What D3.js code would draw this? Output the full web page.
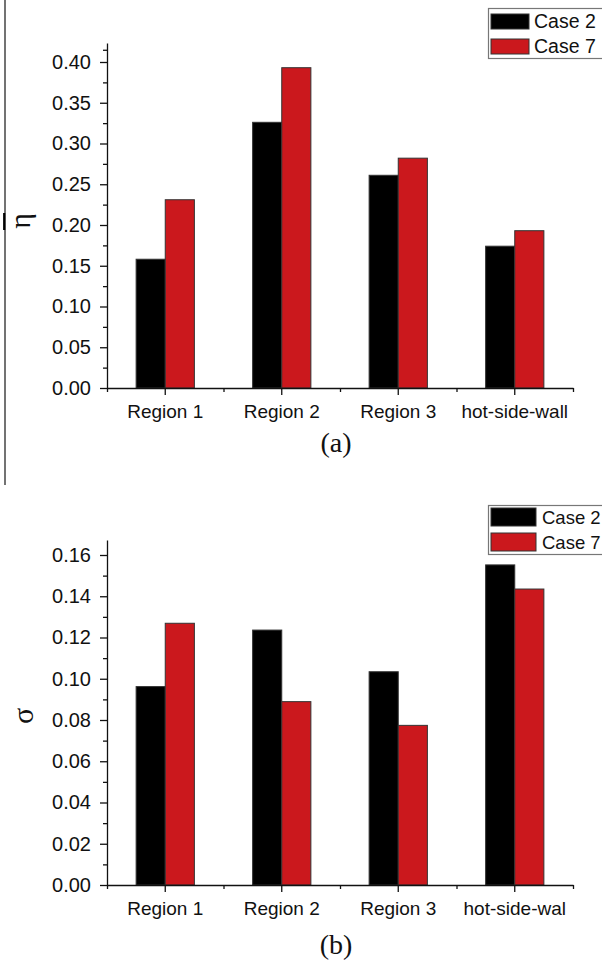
<!DOCTYPE html>
<html>
<head>
<meta charset="utf-8">
<script src="https://cdn.jsdelivr.net/npm/d3@7"></script>
<style>
  html, body { margin: 0; padding: 0; background: #fff; overflow: hidden; }
  svg { display: block; }
  .axis path, .axis line { stroke: #111; stroke-width: 1.3; }
  .axis text { font-family: "Liberation Sans", Arial, sans-serif; font-size: 19px; fill: #111; }
  .yaxis text { font-size: 20px; }
</style>
</head>
<body>
<script>
// ---------- data ----------
const categories = ["Region 1", "Region 2", "Region 3", "hot-side-wall"];
const categoryLabelsA = ["Region 1", "Region 2", "Region 3", "hot-side-wall"];
const categoryLabelsB = ["Region 1", "Region 2", "Region 3", "hot-side-wal"];
const seriesNames = ["Case 2", "Case 7"];
const seriesColors = ["#000000", "#cb181d"];

const etaCase2 = [0.158, 0.326, 0.261, 0.174];
const etaCase7 = [0.231, 0.393, 0.282, 0.193];
const sigmaCase2 = [0.0962, 0.1236, 0.1034, 0.1552];
const sigmaCase7 = [0.1269, 0.0889, 0.0774, 0.1435];

const etaTicks = [0.00, 0.05, 0.10, 0.15, 0.20, 0.25, 0.30, 0.35, 0.40];
const etaMinorTicks = [0.025, 0.075, 0.125, 0.175, 0.225, 0.275, 0.325, 0.375, 0.415];
const sigmaTicks = [0.00, 0.02, 0.04, 0.06, 0.08, 0.10, 0.12, 0.14, 0.16];
const sigmaMinorTicks = [0.01, 0.03, 0.05, 0.07, 0.09, 0.11, 0.13, 0.15];

// ---------- svg ----------
const W = 602, H = 966;
const svg = d3.select("body").append("svg").attr("width", W).attr("height", H);

// stray frame line at left (from the source image)
svg.append("line").attr("x1", 5).attr("x2", 5).attr("y1", 0).attr("y2", 485)
  .attr("stroke", "#444").attr("stroke-width", 1.5);
svg.append("line").attr("x1", 4.2).attr("x2", 4.2).attr("y1", 213).attr("y2", 230)
  .attr("stroke", "#000").attr("stroke-width", 2.2);

function drawPanel(cfg) {
  const g = svg.append("g");
  const x = d3.scaleBand().domain(categories).range([107, 573]).padding(0);
  const xs = d3.scaleBand().domain(seriesNames)
    .range([x.bandwidth() / 4, x.bandwidth() * 3 / 4]).padding(0);
  const y = d3.scaleLinear().domain([0, cfg.yTop]).range([cfg.y0, cfg.yEnd]);

  // bars
  const rows = categories.map((c, i) => ({ c, vals: [cfg.s1[i], cfg.s2[i]] }));
  const grp = g.selectAll("g.cat").data(rows).enter().append("g")
    .attr("transform", d => `translate(${x(d.c)},0)`);
  grp.selectAll("rect").data(d => d.vals.map((v, k) => ({ v, k })))
    .enter().append("rect")
    .attr("x", d => xs(seriesNames[d.k]))
    .attr("width", xs.bandwidth())
    .attr("y", d => y(d.v))
    .attr("height", d => y(0) - y(d.v))
    .attr("fill", d => seriesColors[d.k])
    .attr("stroke", "#333").attr("stroke-width", 1);

  // y axis
  g.append("g").attr("class", "axis yaxis").attr("transform", "translate(107,0)")
    .call(d3.axisLeft(y).tickValues(cfg.ticks).tickSize(7).tickSizeOuter(0)
      .tickPadding(9).tickFormat(cfg.fmt));
  g.append("g").attr("class", "axis").attr("transform", "translate(107,0)")
    .call(d3.axisLeft(y).tickValues(cfg.minor).tickSize(4).tickSizeOuter(0).tickFormat(""))
    .select("path").remove();

  // x axis
  const xAxis = g.append("g").attr("class", "axis").attr("transform", `translate(0,${cfg.y0})`)
    .call(d3.axisBottom(x).tickSize(7).tickSizeOuter(0).tickPadding(10)
      .tickFormat((d, i) => cfg.labels[i]));
  xAxis.selectAll("text").attr("dy", "0.71em");
  const xb = d3.scaleLinear().domain([0, categories.length]).range([107, 573]);
  g.append("g").attr("class", "axis").attr("transform", `translate(0,${cfg.y0})`)
    .call(d3.axisBottom(xb).tickValues(d3.range(categories.length + 1)).tickSize(4)
      .tickSizeOuter(0).tickFormat(""))
    .select("path").remove();

  // axis symbol
  g.append("text")
    .attr("transform", `translate(${cfg.symX},${cfg.symY}) rotate(-90)`)
    .attr("text-anchor", "middle")
    .attr("font-family", "'Liberation Serif', 'Times New Roman', serif")
    .attr("font-size", 30).attr("fill", "#111")
    .text(cfg.symbol);

  // caption
  g.append("text").attr("x", 336).attr("y", cfg.capY)
    .attr("text-anchor", "middle")
    .attr("font-family", "'Liberation Serif', 'Times New Roman', serif")
    .attr("font-size", 28).attr("fill", "#111")
    .text(cfg.caption);

  // legend
  const L = cfg.legend;
  g.append("rect").attr("x", 488.5).attr("y", L.top + 0.5).attr("width", 130).attr("height", L.h)
    .attr("fill", "#fff").attr("stroke", "#777").attr("stroke-width", 1.2);
  seriesNames.forEach((s, k) => {
    g.append("rect").attr("x", 491).attr("y", L.swY[k]).attr("width", L.swW).attr("height", L.swH)
      .attr("fill", seriesColors[k]).attr("stroke", "#333").attr("stroke-width", 1);
    g.append("text").attr("x", L.textX).attr("y", L.baseY[k])
      .attr("font-family", "'Liberation Sans', Arial, sans-serif")
      .attr("font-size", L.fs).attr("fill", "#111").text(s);
  });
}

drawPanel({
  s1: etaCase2, s2: etaCase7, ticks: etaTicks, minor: etaMinorTicks,
  fmt: d3.format(".2f"), labels: categoryLabelsA,
  yTop: (388 - 43) / 815, y0: 388, yEnd: 43,
  symbol: "η", symX: 30, symY: 221, caption: "(a)", capY: 452,
  legend: { top: 8, h: 50, swY: [14, 39], swW: 38, swH: 15, textX: 534, baseY: [28, 53], fs: 19.5 }
});

drawPanel({
  s1: sigmaCase2, s2: sigmaCase7, ticks: sigmaTicks, minor: sigmaMinorTicks,
  fmt: d3.format(".2f"), labels: categoryLabelsB,
  yTop: (885 - 540) / 2062.5, y0: 885, yEnd: 540,
  symbol: "σ", symX: 33, symY: 716, caption: "(b)", capY: 954,
  legend: { top: 505, h: 49, swY: [508, 533], swW: 45, swH: 18, textX: 542, baseY: [524, 549], fs: 18.5 }
});
</script>
</body>
</html>
